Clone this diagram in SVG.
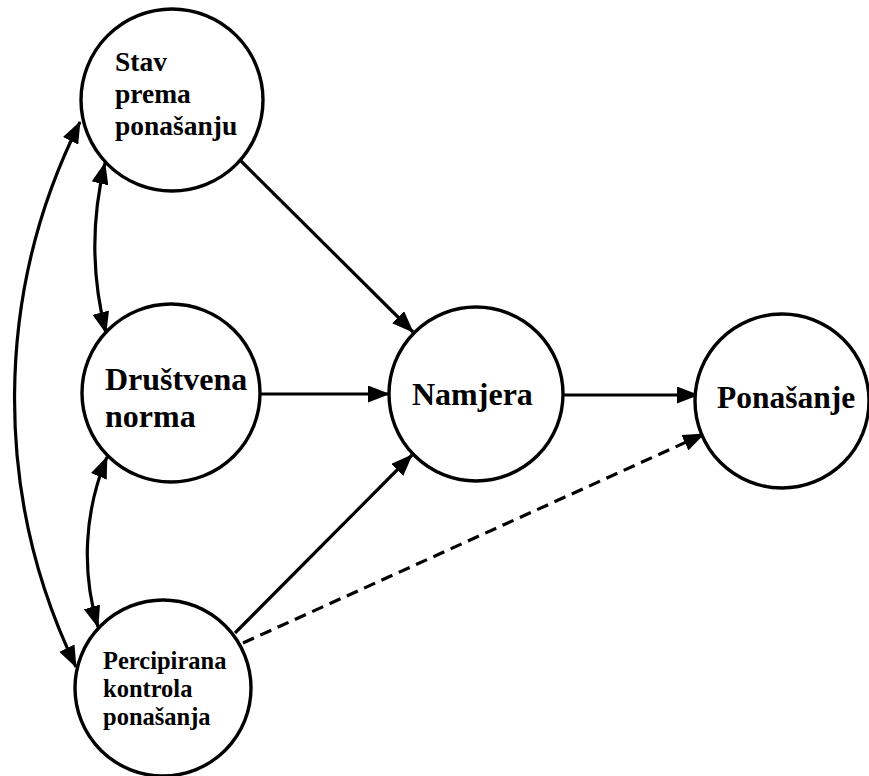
<svg xmlns="http://www.w3.org/2000/svg" width="869" height="776" viewBox="0 0 869 776">
<style>
.node{fill:#fff;stroke:#000;stroke-width:3.4}
.lbl{font-family:"Liberation Serif","Times New Roman",serif;font-weight:bold;fill:#000}
.edge{fill:none;stroke:#000;stroke-width:3.2}
.dash{stroke-dasharray:12 7}
</style>
<defs>
<marker id="ah" viewBox="0 0 22 17" refX="21" refY="8.5" markerWidth="22" markerHeight="17" markerUnits="userSpaceOnUse" orient="auto-start-reverse">
<path d="M0,0 L22,8.5 L0,17 z" fill="#000"/>
</marker>
</defs>
<rect width="869" height="776" fill="#fff"/>
<g id="connectors">
<path class="edge" d="M80,122 A617,617 0 0 0 76,667" marker-start="url(#ah)" marker-end="url(#ah)"/>
<path class="edge" d="M105,163 A349,349 0 0 0 106,333" marker-start="url(#ah)" marker-end="url(#ah)"/>
<path class="edge" d="M107,457 A251,251 0 0 0 98,627" marker-start="url(#ah)" marker-end="url(#ah)"/>
<path class="edge" d="M240,160 L413,332" marker-end="url(#ah)"/>
<path class="edge" d="M259,394 L389,394" marker-end="url(#ah)"/>
<path class="edge" d="M235,633 L412,455" marker-end="url(#ah)"/>
<path class="edge" d="M563,395 L698,395" marker-end="url(#ah)"/>
<path class="edge dash" d="M243,643 L704,434" marker-end="url(#ah)"/>
</g>
<g id="stav">
<circle class="node" cx="172" cy="100" r="91"/>
<text class="lbl" font-size="27.5"><tspan x="115" y="71">Stav</tspan><tspan x="115" y="103">prema</tspan><tspan x="115" y="135">ponašanju</tspan></text>
</g>
<g id="drustvena">
<circle class="node" cx="171" cy="393" r="89"/>
<text class="lbl" font-size="32"><tspan x="105" y="390">Društvena</tspan><tspan x="105" y="427">norma</tspan></text>
</g>
<g id="percipirana">
<circle class="node" cx="163" cy="688" r="88"/>
<text class="lbl" font-size="24.5"><tspan x="103" y="669">Percipirana</tspan><tspan x="103" y="697">kontrola</tspan><tspan x="103" y="725">ponašanja</tspan></text>
</g>
<g id="namjera">
<circle class="node" cx="476" cy="394" r="87"/>
<text class="lbl" font-size="32" x="412" y="405">Namjera</text>
</g>
<g id="ponasanje">
<circle class="node" cx="782" cy="401" r="87"/>
<text class="lbl" font-size="31.5" x="717" y="408">Ponašanje</text>
</g>
</svg>
